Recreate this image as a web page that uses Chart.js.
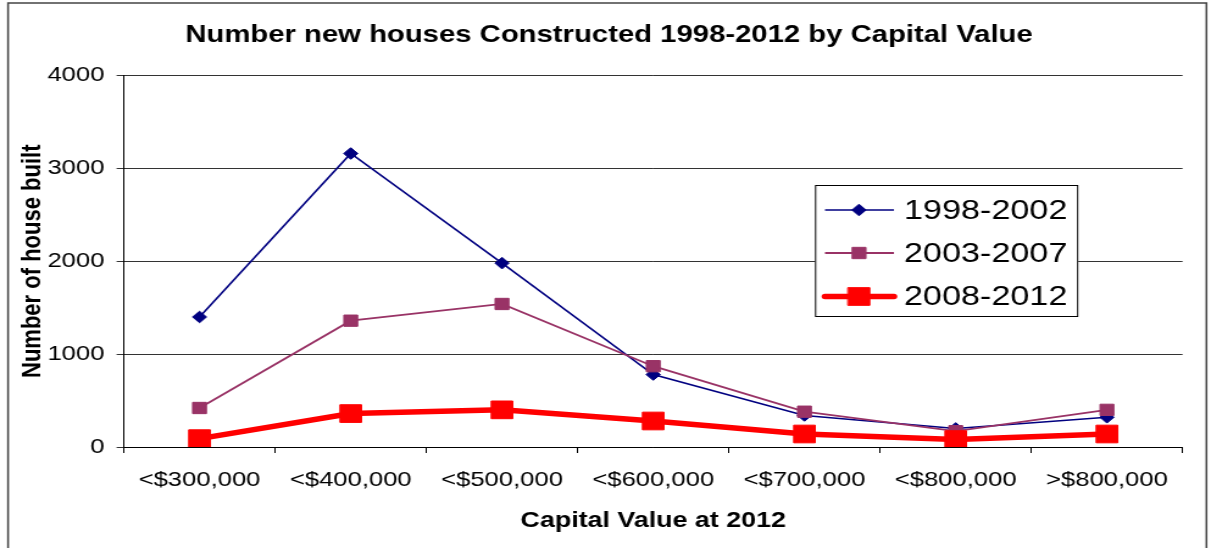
<!DOCTYPE html>
<html>
<head>
<meta charset="utf-8">
<title>Number new houses Constructed 1998-2012 by Capital Value</title>
<script src="https://cdn.jsdelivr.net/npm/chart.js@4.4.0/dist/chart.umd.min.js"></script>
<style>
  body { margin: 0; background: #fff; overflow: hidden; }
  /* the chart is drawn narrow and stretched sideways, like the old spreadsheet export */
  #wrap { width: 993px; height: 548px; transform: scaleX(1.2195); transform-origin: 0 0; }
  #grafic { display: block; }
</style>
</head>
<body>
<div id="wrap"><canvas id="grafic" width="993" height="548"></canvas></div>
<script>
let categories = ["<$300,000", "<$400,000", "<$500,000", "<$600,000", "<$700,000", "<$800,000", ">$800,000"];
let seriesNames = ["1998-2002", "2003-2007", "2008-2012"];
let built1998 = [1400, 3160, 1980, 780, 340, 200, 320];
let built2003 = [420, 1360, 1540, 870, 380, 170, 400];
let built2008 = [90, 360, 400, 280, 140, 80, 140];
let yTicks = [0, 1000, 2000, 3000, 4000];

let FONT = "'Liberation Sans', Arial, sans-serif";

// outer frame of the chart object
const framePlugin = {
  id: "frame",
  beforeDraw(chart) {
    let ctx = chart.ctx;
    ctx.save();
    ctx.fillStyle = "#fff";
    ctx.fillRect(0, 0, chart.width, chart.height);
    ctx.strokeStyle = "#444";
    ctx.lineWidth = 1.5;
    ctx.beginPath();
    ctx.moveTo(6.6, chart.height + 2);
    ctx.lineTo(6.6, 3);
    ctx.lineTo(989.3, 3);
    ctx.lineTo(989.3, chart.height + 2);
    ctx.stroke();
    ctx.restore();
  }
};

function drawMarker(ctx, style, x, y, r) {
  ctx.beginPath();
  if (style === "rectRot") {
    ctx.moveTo(x, y - r);
    ctx.lineTo(x + r, y);
    ctx.lineTo(x, y + r);
    ctx.lineTo(x - r, y);
  } else {
    let h = r * Math.SQRT1_2;
    ctx.rect(x - h, y - h, 2 * h, 2 * h);
  }
  ctx.closePath();
  ctx.fill();
  ctx.stroke();
}

// boxed legend sitting inside the plot
const boxLegend = {
  id: "boxLegend",
  afterDraw(chart) {
    let ctx = chart.ctx;
    let left = 668.3, right = 884.2, top = 185, bottom = 317;
    ctx.save();
    ctx.fillStyle = "#fff";
    ctx.fillRect(left, top, right - left, bottom - top);
    ctx.strokeStyle = "#000";
    ctx.lineWidth = 1;
    ctx.strokeRect(left + 0.5, top + 0.5, right - left - 1, bottom - top - 1);

    let rows = [210, 253, 296.5];
    chart.data.datasets.forEach((ds, i) => {
      let y = rows[i];
      ctx.strokeStyle = ds.borderColor;
      ctx.lineWidth = ds.borderWidth;
      ctx.lineCap = i === 2 ? "round" : "butt";
      ctx.beginPath();
      ctx.moveTo(676.5, y);
      ctx.lineTo(733, y);
      ctx.stroke();
      ctx.fillStyle = ds.pointBackgroundColor;
      ctx.lineWidth = ds.pointBorderWidth;
      drawMarker(ctx, ds.pointStyle, 704.4, y, ds.pointRadius);
      ctx.fillStyle = "#000";
      ctx.font = "28px " + FONT;
      ctx.textBaseline = "middle";
      ctx.textAlign = "left";
      ctx.fillText(ds.label, 741.3, y + 1);
    });
    ctx.restore();
  }
};

window.onload = function () {
  let ctx = document.getElementById("grafic").getContext("2d");

  let myChart = new Chart(ctx, {
    type: "line",
    data: {
      labels: categories,
      datasets: [{
        label: seriesNames[0],
        data: built1998,
        borderColor: "#000080",
        backgroundColor: "#000080",
        borderWidth: 1.6,
        pointStyle: "rectRot",
        pointRadius: 5.8,
        pointBorderWidth: 1,
        pointBackgroundColor: "#000080",
        pointBorderColor: "#000080",
        order: 2
      }, {
        label: seriesNames[1],
        data: built2003,
        borderColor: "#993366",
        backgroundColor: "#993366",
        borderWidth: 1.8,
        pointStyle: "rect",
        pointRadius: 8,
        pointBorderWidth: 1,
        pointBackgroundColor: "#993366",
        pointBorderColor: "#993366",
        order: 1
      }, {
        label: seriesNames[2],
        data: built2008,
        borderColor: "#ff0000",
        backgroundColor: "#ff0000",
        borderWidth: 5.5,
        pointStyle: "rect",
        pointRadius: 12.5,
        pointBorderWidth: 1,
        pointBackgroundColor: "#ff0000",
        pointBorderColor: "#ff0000",
        order: 0
      }]
    },
    options: {
      responsive: false,
      animation: false,
      events: [],
      // left padding keeps the title centred on the frame
      layout: { padding: { left: 29.1, right: 23.3, top: 0, bottom: 0 } },
      plugins: {
        legend: { display: false },
        tooltip: { enabled: false },
        title: {
          display: true,
          text: "Number new houses Constructed 1998-2012 by Capital Value",
          color: "#000",
          font: { family: FONT, size: 24, weight: "bold" },
          padding: { top: 20.5, bottom: 26.2 }
        }
      },
      scales: {
        x: {
          offset: true,
          grid: { offset: true, drawOnChartArea: false, drawTicks: true, tickLength: 6, color: "#000" },
          border: { display: true, color: "#000", width: 1 },
          ticks: { color: "#000", font: { family: FONT, size: 21 }, padding: 15, maxRotation: 0, autoSkip: false },
          title: {
            display: true,
            text: "Capital Value at 2012",
            color: "#000",
            font: { family: FONT, size: 22, weight: "bold" },
            padding: { top: 0, bottom: 13.4 }
          },
          afterFit: function (scale) { scale.height = 101; }
        },
        y: {
          min: 0,
          max: 4000,
          afterBuildTicks: function (scale) { scale.ticks = yTicks.map(v => ({ value: v })); },
          grid: { color: "#333", tickLength: 6, lineWidth: 1 },
          border: { display: true, color: "#000", width: 1 },
          ticks: { color: "#000", font: { family: FONT, size: 21 }, padding: 10, callback: v => String(v) },
          title: {
            display: true,
            text: "Number of house built",
            color: "#000",
            font: { family: FONT, size: 22, weight: "bold" },
            padding: { top: -15.5, bottom: 0 }
          },
          afterFit: function (scale) { scale.width = 72.5; }
        }
      }
    },
    plugins: [framePlugin, boxLegend]
  });
};
</script>
</body>
</html>
